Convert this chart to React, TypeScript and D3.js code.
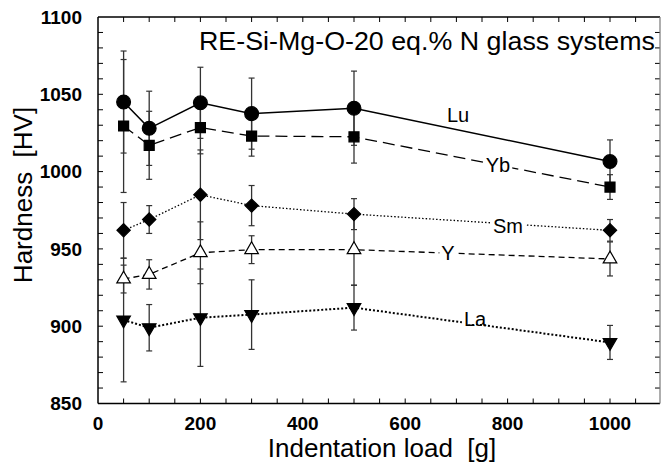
import React, { useEffect, useRef } from 'react';
import * as d3 from 'd3';

// indentation loads [g]
const loads = [50, 100, 200, 300, 500, 1000];

// hardness [HV] and error for each glass system
const luHV = [1045, 1028, 1044.5, 1037.5, 1041, 1006.5];
const luErr = [33, 24, 23, 23, 24, 14];
const ybHV = [1029.5, 1017, 1028.5, 1023, 1022.5, 990];
const ybErr = [43, 22, 17, 13, 17, 8];
const smHV = [962, 969, 985, 978, 972.5, 962];
const smErr = [18, 9, 29, 13, 10, 7];
const yHV = [930.5, 933.5, 947.5, 949.5, 949.5, 943.5];
const yErr = [9, 9.5, 20, 9, 23, 11];
const laHV = [904, 899, 905.5, 907.5, 912, 889.5];
const laErr = [40, 15, 31.5, 22.5, 14.5, 11];

const seriesNames = ['Lu', 'Yb', 'Sm', 'Y', 'La'];
const xTicks = [0, 200, 400, 600, 800, 1000];
const yTicks = [850, 900, 950, 1000, 1050, 1100];
const title = 'RE-Si-Mg-O-20 eq.% N glass systems';

const FONT = '"Liberation Sans", Arial, Helvetica, sans-serif';

const App = () => {
  const ref = useRef<SVGSVGElement>(null);

  useEffect(() => {
    var svg = d3.select(ref.current);
    svg.selectAll('*').remove();

    var x = d3.scaleLinear().domain([0, 1100]).range([98, 661.2]);
    var y = d3.scaleLinear().domain([850, 1100]).range([403.5, 17]);
    var left = 98, right = 660, top = 17, bottom = 403.5;

    var series = [
      { name: seriesNames[0], v: luHV, e: luErr, marker: 'circle', dash: null, lw: 1.5, lx: 458, ly: 115, bg: false },
      { name: seriesNames[1], v: ybHV, e: ybErr, marker: 'square', dash: '12,6', lw: 1.3, lx: 498, ly: 165, bg: true },
      { name: seriesNames[2], v: smHV, e: smErr, marker: 'diamond', dash: '1.5,2', lw: 1.3, lx: 508, ly: 226, bg: true },
      { name: seriesNames[3], v: yHV, e: yErr, marker: 'triUp', dash: '6,4', lw: 1.3, lx: 448, ly: 253, bg: true },
      { name: seriesNames[4], v: laHV, e: laErr, marker: 'triDown', dash: '2,2', lw: 2, lx: 475, ly: 319, bg: true },
    ];

    // axes ticks (inward on all sides)
    var g = svg.append('g');
    var minorX = d3.range(50, 1100, 50);
    minorX.forEach((t) => {
      g.append('line').attr('x1', x(t)).attr('x2', x(t)).attr('y1', bottom).attr('y2', bottom - 5)
        .attr('stroke', '#000').attr('stroke-width', 1);
      g.append('line').attr('x1', x(t)).attr('x2', x(t)).attr('y1', top).attr('y2', top + 5)
        .attr('stroke', '#000').attr('stroke-width', 1);
    });
    var minorY = d3.range(860, 1100, 10);
    minorY.forEach((t) => {
      g.append('line').attr('x1', left).attr('x2', left + 5).attr('y1', y(t)).attr('y2', y(t))
        .attr('stroke', '#000').attr('stroke-width', 1);
      g.append('line').attr('x1', right).attr('x2', right - 5).attr('y1', y(t)).attr('y2', y(t))
        .attr('stroke', '#000').attr('stroke-width', 1);
    });

    // frame
    g.append('line').attr('x1', left).attr('x2', right).attr('y1', top).attr('y2', top).attr('stroke', '#000').attr('stroke-width', 1.5);
    g.append('line').attr('x1', left).attr('x2', right).attr('y1', bottom).attr('y2', bottom).attr('stroke', '#000').attr('stroke-width', 1.5);
    g.append('line').attr('x1', left).attr('x2', left).attr('y1', top).attr('y2', bottom).attr('stroke', '#000').attr('stroke-width', 1.5);
    g.append('line').attr('x1', right).attr('x2', right).attr('y1', top).attr('y2', bottom).attr('stroke', '#777').attr('stroke-width', 1.2);

    // tick labels
    xTicks.forEach((t) => {
      g.append('text').attr('x', x(t)).attr('y', 430).attr('text-anchor', 'middle')
        .attr('font-family', FONT).attr('font-weight', 'bold').attr('font-size', 19).text(t);
    });
    yTicks.forEach((t) => {
      g.append('text').attr('x', 82).attr('y', y(t) + 6.8).attr('text-anchor', 'end')
        .attr('font-family', FONT).attr('font-weight', 'bold').attr('font-size', 19).text(t);
    });

    // axis titles
    g.append('text').attr('x', 382).attr('y', 457).attr('text-anchor', 'middle')
      .attr('font-family', FONT).attr('font-size', 26).attr('xml:space', 'preserve')
      .text('Indentation load  [g]');
    g.append('text').attr('transform', 'translate(32,195) rotate(-90)').attr('text-anchor', 'middle')
      .attr('font-family', FONT).attr('font-size', 26).attr('xml:space', 'preserve')
      .text('Hardness  [HV]');

    // title
    g.append('text').attr('x', 199).attr('y', 50)
      .attr('font-family', FONT).attr('font-size', 25)
      .attr('textLength', 456).attr('lengthAdjust', 'spacingAndGlyphs').text(title);

    // error bars
    var eb = svg.append('g');
    series.forEach((s) => {
      loads.forEach((l, i) => {
        var cx = x(l), y1 = y(s.v[i] + s.e[i]), y2 = y(s.v[i] - s.e[i]);
        eb.append('line').attr('x1', cx).attr('x2', cx).attr('y1', y1).attr('y2', y2)
          .attr('stroke', '#333').attr('stroke-width', 1.3);
        [y1, y2].forEach((yy) => {
          eb.append('line').attr('x1', cx - 3).attr('x2', cx + 3).attr('y1', yy).attr('y2', yy)
            .attr('stroke', '#333').attr('stroke-width', 1.2);
        });
      });
    });

    // lines
    var line = d3.line<number>().x((d, i) => x(loads[i])).y((d) => y(d));
    series.forEach((s) => {
      svg.append('path').attr('d', line(s.v)).attr('fill', 'none').attr('stroke', '#000')
        .attr('stroke-width', s.lw).attr('stroke-dasharray', s.dash);
    });

    // markers
    var sym = {
      circle: d3.symbol().type(d3.symbolCircle).size(150),
      square: d3.symbol().type(d3.symbolSquare).size(100),
      diamond: d3.symbol().type(d3.symbolSquare).size(88),
      triUp: d3.symbol().type(d3.symbolTriangle).size(80),
      triDown: d3.symbol().type(d3.symbolTriangle).size(80),
    } as any;
    series.forEach((s) => {
      loads.forEach((l, i) => {
        var rot = s.marker === 'diamond' ? 45 : s.marker === 'triDown' ? 180 : 0;
        svg.append('path').attr('d', sym[s.marker]())
          .attr('transform', `translate(${x(l)},${y(s.v[i])}) rotate(${rot})`)
          .attr('fill', s.marker === 'triUp' ? '#fff' : '#000')
          .attr('stroke', '#000').attr('stroke-width', 1.2);
      });
    });

    // series labels
    series.forEach((s) => {
      var t = svg.append('text').attr('x', s.lx).attr('y', s.ly + 7.2).attr('text-anchor', 'middle')
        .attr('font-family', FONT).attr('font-size', 20).text(s.name);
      if (s.bg) {
        var bb = (t.node() as SVGTextElement).getBBox();
        svg.insert('rect', () => t.node())
          .attr('x', bb.x - 2).attr('y', s.ly - 5).attr('width', bb.width + 4).attr('height', 10)
          .attr('fill', '#fff');
      }
    });
  }, []);

  return (
    <div style={{ position: 'absolute', left: 0, top: 0 }}>
      <svg ref={ref} width={661} height={468} style={{ display: 'block', background: '#fff' }} />
    </div>
  );
};

export default App;
